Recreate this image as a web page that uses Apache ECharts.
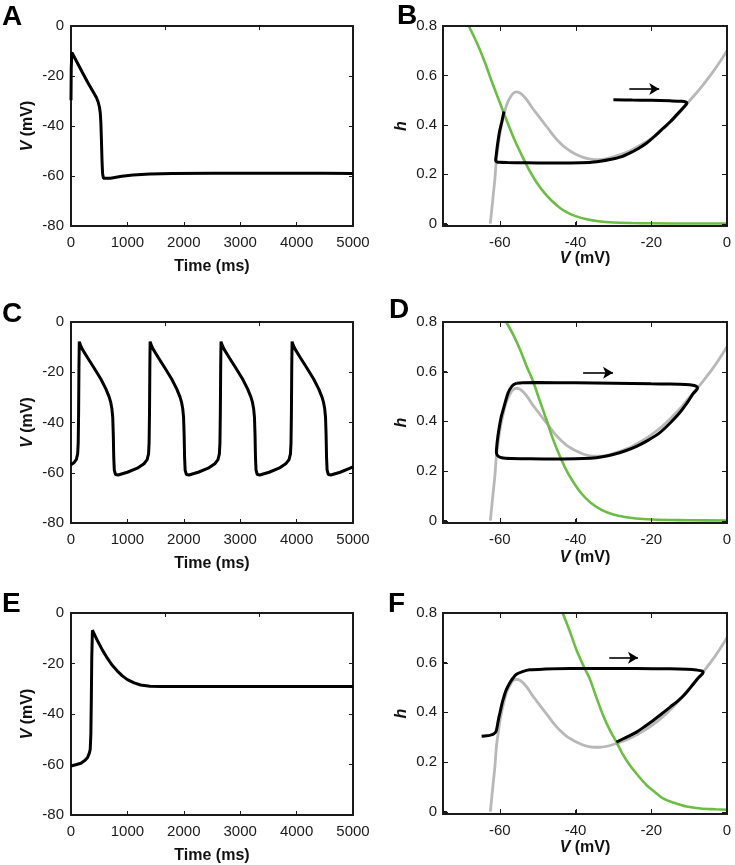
<!DOCTYPE html>
<html><head><meta charset="utf-8">
<script src="https://cdn.jsdelivr.net/npm/echarts@6/dist/echarts.min.js"></script>
<style>html,body{margin:0;padding:0;background:#fff}#c{width:735px;height:865px}</style>
</head><body><div id="c"></div>
<script>
// ---------- DATA ----------
const timeRange = [0, 5000];
const vRange = [-80, 0];
const phaseVRange = [-75, 0];
const hRange = [-0.01, 0.8];
const phaseVTicks = [-60, -40, -20];
const hTicks = [0, 0.2, 0.4, 0.6];

// Panel A: V(t)
const traceA = [[0,-29.7],[4,-17],[15,-10.6],[40,-11.6],[100,-14.2],[200,-18.5],[300,-22.7],[400,-26.6],[450,-28.6],[480,-30.3],[505,-32.5],[520,-35],[530,-39],[540,-46],[550,-54],[560,-59],[575,-60.9],[600,-61.3],[700,-60.9],[900,-60.1],[1100,-59.6],[1400,-59.2],[1800,-59],[2500,-58.9],[3500,-58.9],[4500,-58.9],[5000,-59]];

// Panel C: V(t)
const traceC = [[0,-56.8],[60,-55.8],[95,-54.7],[118,-52.5],[128,-48],[135,-36],[141,-18],[147,-7.8],[160,-8.8],[200,-10.8],[294,-14.2],[412,-18.4],[529,-22.7],[618,-26.6],[676,-29.8],[705,-32],[725,-34.5],[740,-38],[750,-45],[758,-54],[768,-59],[790,-60.7],[835,-60.9],[1000,-59.8],[1176,-58.2],[1294,-56.4],[1350,-54.8],[1375,-52.5],[1385,-48],[1392,-36],[1398,-18],[1403,-7.8],
[1416,-8.8],[1456,-10.8],[1550,-14.2],[1668,-18.4],[1785,-22.7],[1874,-26.6],[1932,-29.8],[1961,-32],[1981,-34.5],[1996,-38],[2006,-45],[2014,-54],[2024,-59],[2046,-60.7],[2091,-60.9],[2256,-59.8],[2432,-58.2],[2550,-56.4],[2606,-54.8],[2631,-52.5],[2641,-48],[2648,-36],[2654,-18],[2660,-7.8],
[2673,-8.8],[2713,-10.8],[2807,-14.2],[2925,-18.4],[3042,-22.7],[3131,-26.6],[3189,-29.8],[3218,-32],[3238,-34.5],[3253,-38],[3263,-45],[3271,-54],[3281,-59],[3303,-60.7],[3348,-60.9],[3513,-59.8],[3689,-58.2],[3807,-56.4],[3866,-54.8],[3891,-52.5],[3901,-48],[3908,-36],[3914,-18],[3920,-7.8],
[3933,-8.8],[3973,-10.8],[4067,-14.2],[4185,-18.4],[4302,-22.7],[4391,-26.6],[4449,-29.8],[4478,-32],[4498,-34.5],[4513,-38],[4523,-45],[4531,-54],[4541,-59],[4563,-60.7],[4608,-60.9],[4773,-59.8],[4949,-58.2],[5000,-57.7]];

// Panel E: V(t)
const traceE = [[0,-60.6],[100,-60],[176,-59.5],[250,-58.3],[294,-57.2],[325,-55.5],[341,-54],[352,-48],[360,-35],[368,-18],[380,-6.8],[400,-7.5],[470,-11],[560,-14.8],[647,-18],[735,-20.8],[823,-23],[910,-24.9],[1000,-26.4],[1120,-27.7],[1235,-28.5],[1400,-29],[1600,-29.1],[2000,-29.1],[3000,-29.1],[4000,-29.1],[5000,-29.1]];

// Grey curve (shared by B, D, F)
const greyCurve = [[-62.5,0],[-62.1,0.06],[-61.7,0.12],[-61.3,0.18],[-60.9,0.26],[-60.4,0.32],[-59.8,0.38],[-59.1,0.43],[-58.2,0.48],[-57.3,0.51],[-56.5,0.527],[-55.7,0.533],[-54.8,0.53],[-53.8,0.518],[-52.8,0.5],[-51.5,0.47],[-50,0.44],[-48.5,0.41],[-47,0.38],[-45.5,0.35],[-44,0.325],[-42.5,0.305],[-41,0.29],[-39.5,0.278],[-38,0.268],[-36.5,0.262],[-35,0.259],[-33.5,0.259],[-32,0.262],[-30,0.27],[-28,0.28],[-26,0.292],[-24,0.308],[-22,0.325],[-20,0.345],[-18,0.368],[-16,0.395],[-14,0.425],[-12,0.458],[-10,0.495],[-8,0.53],[-6,0.568],[-4,0.608],[-2,0.652],[0,0.7]];

// Green curves
const greenB = [[-68.2,0.8],[-66,0.73],[-64,0.655],[-62,0.57],[-60,0.49],[-58,0.41],[-56,0.335],[-54,0.27],[-52,0.21],[-50,0.16],[-48,0.12],[-46,0.088],[-44,0.062],[-42,0.043],[-40,0.03],[-37,0.017],[-34,0.009],[-30,0.004],[-25,0.002],[-20,0.001],[-10,0],[0,0]];
const greenD = [[-58.3,0.8],[-56.5,0.75],[-54.7,0.69],[-53,0.625],[-51.2,0.56],[-49.5,0.485],[-47.7,0.407],[-46,0.33],[-44.3,0.265],[-42.5,0.205],[-40.6,0.155],[-38.5,0.11],[-36,0.072],[-33,0.042],[-30,0.024],[-27,0.014],[-24,0.008],[-20,0.004],[-15,0.002],[-10,0.001],[0,0]];
const greenF = [[-43.4,0.8],[-41.6,0.73],[-39.8,0.653],[-38,0.59],[-36.2,0.533],[-34.5,0.46],[-32.7,0.387],[-31,0.33],[-29.2,0.28],[-27.5,0.23],[-25.7,0.187],[-23.5,0.145],[-21.3,0.107],[-19,0.078],[-16.9,0.053],[-14,0.035],[-10.7,0.02],[-7,0.012],[-3,0.009],[0,0.007]];

// Black trajectories
const trajB = [[-30,0.501],[-25,0.5],[-20,0.499],[-15.1,0.497],[-12,0.495],[-10.9,0.492],[-10.6,0.488],[-11.5,0.47],[-13.3,0.44],[-15,0.412],[-16.8,0.387],[-19,0.355],[-21.2,0.326],[-23.5,0.303],[-25.6,0.286],[-28,0.27],[-30.9,0.259],[-33.5,0.252],[-36.2,0.247],[-41.5,0.245],[-48,0.245],[-54,0.246],[-58,0.247],[-60,0.248],[-60.8,0.25],[-61.1,0.256],[-61,0.27],[-60.6,0.32],[-60.1,0.37],[-59.5,0.41],[-58.9,0.454]];
const trajD = [[-55.6,0.553],[-54,0.555],[-50,0.556],[-40,0.555],[-30,0.553],[-20,0.551],[-15,0.55],[-11,0.548],[-9,0.545],[-8,0.54],[-7.8,0.534],[-9,0.51],[-10.5,0.475],[-12.5,0.434],[-15,0.393],[-17.8,0.353],[-21,0.322],[-23.9,0.299],[-27,0.28],[-30.1,0.266],[-32.5,0.258],[-34.5,0.253],[-38,0.25],[-45,0.248],[-52,0.249],[-57,0.25],[-59.5,0.253],[-60.5,0.26],[-60.9,0.275],[-60.8,0.3],[-60.5,0.34],[-60.1,0.38],[-59.6,0.42],[-59.1,0.447],[-58.5,0.48],[-57.8,0.515],[-57,0.537],[-56.3,0.548],[-55.6,0.553]];
const trajF = [[-64.8,0.303],[-63.5,0.305],[-62.5,0.308],[-61.7,0.312],[-61.2,0.318],[-60.9,0.327],[-60.6,0.35],[-60.3,0.375],[-60,0.395],[-59.5,0.43],[-59.1,0.453],[-58.3,0.49],[-57.3,0.52],[-56.5,0.538],[-55.6,0.553],[-54,0.564],[-52.1,0.571],[-48,0.574],[-41.5,0.576],[-30,0.576],[-23.9,0.576],[-15,0.575],[-10.7,0.573],[-8,0.57],[-6.5,0.566],[-6.3,0.56],[-7.5,0.54],[-9,0.512],[-10.7,0.48],[-12.8,0.448],[-15.1,0.42],[-17.3,0.393],[-19.5,0.367],[-21.7,0.343],[-23.9,0.32],[-26.5,0.3],[-29.2,0.28]];

// Direction arrows [start, end]
const arrowB = [[-25.8,0.545],[-17.9,0.545]];
const arrowD = [[-38,0.595],[-30.1,0.595]];
const arrowF = [[-31.1,0.62],[-23.5,0.62]];

const panelLetters = ['A','B','C','D','E','F'];

// ---------- CHART ----------
const FONT = '"Liberation Sans", Arial, Helvetica, sans-serif';
const BLACK = '#000000', GREY = '#b8b8b8', GREEN = '#6cbd45', AXC = '#1a1a1a';
function mkAxisLine() { return {show:true, onZero:false, lineStyle:{color:AXC, width:2, type:'solid', opacity:1}}; }
function mkTicks() { return {show:true, inside:true, length:4, lineStyle:{color:AXC, width:1}}; }
function mkLabels(extra) {
  return Object.assign({show:true, color:'#1a1a1a', fontSize:15, fontFamily:FONT}, extra || {});
}
function mkName() {
  return {color:'#111', fontSize:16, fontWeight:'bold', fontFamily:FONT,
    rich:{i:{fontStyle:'italic', fontWeight:'bold', fontSize:16, fontFamily:FONT, color:'#111'}}};
}

const grids = [
  {left:71, top:26, width:282, height:200},
  {left:443, top:26, width:284, height:200},
  {left:71, top:322, width:282, height:201},
  {left:443, top:322, width:284, height:201},
  {left:71, top:613, width:282, height:202},
  {left:443, top:613, width:284, height:201}
];

const xAxes = [], yAxes = [], series = [], phaseAxes = [];

function timePanel(gi, data, xNameGap) {
  xAxes.push({gridIndex:gi, type:'value', position:'bottom', min:timeRange[0], max:timeRange[1], interval:1000,
    axisLine:mkAxisLine(), axisTick:mkTicks(), splitLine:{show:false},
    axisLabel:mkLabels({margin:9, formatter:v => String(v)}),
    name:'Time (ms)', nameLocation:'middle', nameGap:xNameGap, nameTextStyle:mkName()});
  xAxes.push({gridIndex:gi, type:'value', position:'top', min:timeRange[0], max:timeRange[1], interval:5000/3,
    axisLine:mkAxisLine(), axisTick:mkTicks(), splitLine:{show:false}, axisLabel:{show:false}});
  yAxes.push({gridIndex:gi, type:'value', position:'left', min:vRange[0], max:vRange[1], interval:20,
    axisLine:mkAxisLine(), axisTick:mkTicks(), splitLine:{show:false},
    axisLabel:mkLabels({margin:7}),
    name:'{i|V} (mV)', nameLocation:'middle', nameGap:35, nameTextStyle:mkName()});
  yAxes.push({gridIndex:gi, type:'value', position:'right', min:vRange[0], max:vRange[1], interval:20,
    axisLine:mkAxisLine(), axisTick:mkTicks(), splitLine:{show:false}, axisLabel:{show:false}});
  const xi = xAxes.length - 2, yi = yAxes.length - 2;
  series.push({type:'line', xAxisIndex:xi, yAxisIndex:yi, data:data, showSymbol:false,
    lineStyle:{color:BLACK, width:3}});
}

function phasePanel(gi, green, traj, arrow, xNameGap) {
  xAxes.push({gridIndex:gi, type:'value', position:'bottom', min:phaseVRange[0], max:phaseVRange[1],
    axisLine:mkAxisLine(), splitLine:{show:false}, axisTick:mkTicks(),
    axisLabel:mkLabels({margin:9, showMinLabel:false}),
    name:'{i|V} (mV)', nameLocation:'middle', nameGap:xNameGap, nameTextStyle:mkName()});
  yAxes.push({gridIndex:gi, type:'value', position:'left', min:hRange[0], max:hRange[1],
    axisLine:mkAxisLine(), splitLine:{show:false}, axisTick:mkTicks(),
    axisLabel:mkLabels({margin:6, showMinLabel:false}),
    name:'{i|h}', nameLocation:'middle', nameGap:33, nameTextStyle:mkName()});
  const xi = xAxes.length - 1, yi = yAxes.length - 1;
  phaseAxes.push({xi:xi, yi:yi});
  series.push({type:'line', xAxisIndex:xi, yAxisIndex:yi, data:greyCurve, showSymbol:false,
    smooth:0.3, lineStyle:{color:GREY, width:2.8}});
  series.push({type:'line', xAxisIndex:xi, yAxisIndex:yi, data:green, showSymbol:false,
    smooth:0.3, lineStyle:{color:GREEN, width:2.6}});
  series.push({type:'line', xAxisIndex:xi, yAxisIndex:yi, data:traj, showSymbol:false,
    smooth:0.3, lineStyle:{color:BLACK, width:3},
    markLine:{silent:true, symbol:['none','arrow'], symbolSize:[9,10], animation:false,
      label:{show:false}, lineStyle:{color:BLACK, width:1.6, type:'solid'},
      data:[[{coord:arrow[0]},{coord:arrow[1]}]]}});
}

timePanel(0, traceA, 33);
phasePanel(1, greenB, trajB, arrowB, 22);
timePanel(2, traceC, 33);
phasePanel(3, greenD, trajD, arrowD, 27);
timePanel(4, traceE, 33);
phasePanel(5, greenF, trajF, arrowF, 26);

const letterPos = [[2,3],[397,2],[2,300],[389,296],[2,590],[388,590]];
const graphic = panelLetters.map((t, i) => ({type:'text', left:letterPos[i][0], top:letterPos[i][1],
  style:{text:t, fill:'#000', font:'bold 28px ' + FONT}}));

const chart = echarts.init(document.getElementById('c'), null, {renderer:'canvas'});
chart.setOption({animation:false, backgroundColor:'#fff', grid:grids, xAxis:xAxes, yAxis:yAxes,
  series:series, graphic:graphic});

// Frame and mirrored ticks of the phase-plane panels, placed through the panels' own scales
const frameEls = [];
phaseAxes.forEach(a => {
  const finder = {xAxisIndex:a.xi, yAxisIndex:a.yi};
  const bl = chart.convertToPixel(finder, [phaseVRange[0], hRange[0]]);
  const tr = chart.convertToPixel(finder, [phaseVRange[1], hRange[1]]);
  const x0 = Math.round(bl[0]), y0 = Math.round(bl[1]), x1 = Math.round(tr[0]), y1 = Math.round(tr[1]);
  frameEls.push({type:'rect', z:100, silent:true, shape:{x:x0, y:y1, width:x1 - x0, height:y0 - y1},
    style:{fill:'rgba(0,0,0,0)', stroke:AXC, lineWidth:2}});
  phaseVTicks.forEach(v => {
    const x = Math.round(chart.convertToPixel(finder, [v, hRange[0]])[0]) + 0.5;
    frameEls.push({type:'line', z:100, silent:true, shape:{x1:x, y1:y0, x2:x, y2:y0 - 5}, style:{stroke:AXC, lineWidth:1}});
    frameEls.push({type:'line', z:100, silent:true, shape:{x1:x, y1:y1, x2:x, y2:y1 + 5}, style:{stroke:AXC, lineWidth:1}});
  });
  hTicks.forEach(h => {
    const y = Math.round(chart.convertToPixel(finder, [phaseVRange[0], h])[1]) + 0.5;
    frameEls.push({type:'line', z:100, silent:true, shape:{x1:x0, y1:y, x2:x0 + 5, y2:y}, style:{stroke:AXC, lineWidth:1}});
    frameEls.push({type:'line', z:100, silent:true, shape:{x1:x1, y1:y, x2:x1 - 5, y2:y}, style:{stroke:AXC, lineWidth:1}});
  });
});
chart.setOption({graphic:graphic.concat(frameEls)});
</script></body></html>
